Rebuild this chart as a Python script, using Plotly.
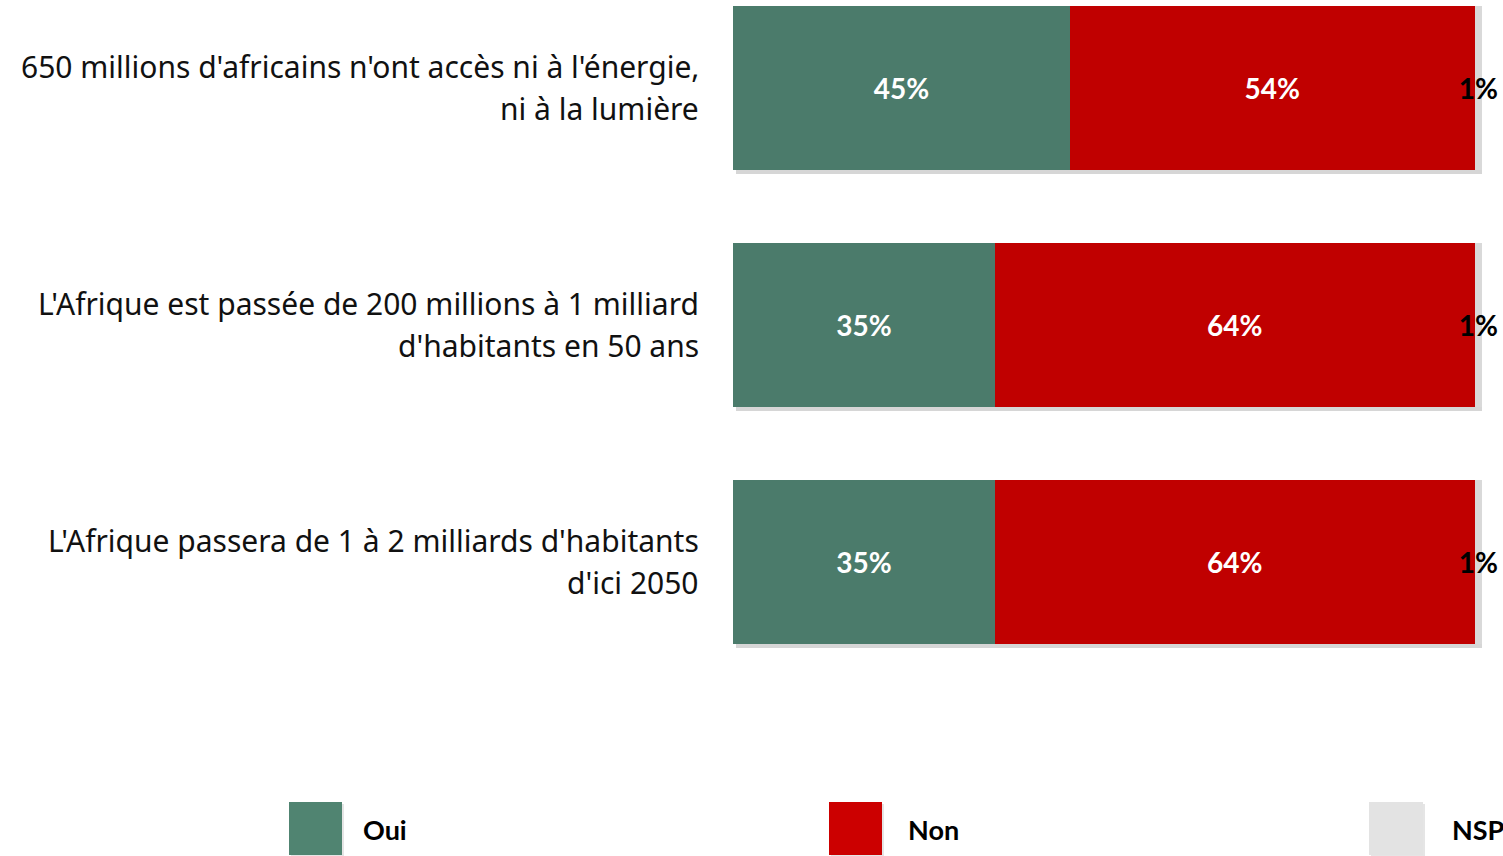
import plotly.graph_objects as go

categories = [
    "650 millions d'africains n'ont accès ni à l'énergie,<br>ni à la lumière",
    "L'Afrique est passée de 200 millions à 1 milliard<br>d'habitants en 50 ans",
    "L'Afrique passera de 1 à 2 milliards d'habitants<br>d'ici 2050",
]
series_names = ["Oui", "Non", "NSP"]
oui = [45, 35, 35]
non = [54, 64, 64]
nsp = [1, 1, 1]

bar_colors = ["#4B7B6B", "#C00000", "#D9D9D9"]
legend_colors = ["#508471", "#CC0000", "#E3E3E3"]
text_colors = ["white", "white", "black"]

W, H = 1503, 856
L, R = 733, 1482          # plot area left/right in px
T, B = 0, 660             # plot area top/bottom in px
FONT = "Lato"
LABEL_FONT = "Noto Sans"

PX_PER_UNIT_Y = 237.0
PX_PER_UNIT_X = (R - L) / 100.0
Y_RANGE = [2 + 98 / PX_PER_UNIT_Y, -88 / PX_PER_UNIT_Y]
X_RANGE = [0, 100]
SDX, SDY = 3, 4           # drop-shadow offset in px

def px_x(p):
    return (p - L) / (R - L)

def px_y(p):
    return (B - p) / (B - T)

fig = go.Figure()
values = [oui, non, nsp]
ys = list(range(len(categories)))
totals = [a + b + c for a, b, c in zip(oui, non, nsp)]

# soft drop shadow on the base axes (ranges shifted by a few pixels)
fig.add_trace(go.Bar(
    y=ys, x=totals, orientation="h", xaxis="x", yaxis="y",
    marker=dict(color="rgba(0,0,0,0.16)", line=dict(width=0)),
    width=0.688, hoverinfo="skip", showlegend=False,
))

for name, vals, col, tcol in zip(series_names, values, bar_colors, text_colors):
    fig.add_trace(go.Bar(
        y=ys, x=vals, name=name, orientation="h",
        xaxis="x2", yaxis="y2",
        marker=dict(color=col, line=dict(width=0)),
        width=0.688,
        text=[f"{v}%" for v in vals],
        textposition="inside", insidetextanchor="middle",
        constraintext="none", textangle=0,
        textfont=dict(family=FONT, size=28, color=tcol, weight="bold"),
        cliponaxis=False,
        showlegend=False,
    ))

annotations = []
for i, cat in enumerate(categories):
    lines = cat.split("<br>")
    for j, line in enumerate(lines):
        annotations.append(dict(
            x=px_x(701), xref="paper", y=i, yref="y2",
            text=line, showarrow=False, xanchor="right", yanchor="middle",
            yshift=22 - 42 * j,
            font=dict(family=LABEL_FONT, size=30, color="#111111"),
        ))

legend_sq = [(289, 342), (829, 882), (1369, 1423)]
legend_txt_x = [361, 906, 1450]
shapes = []
for (x0, x1), tx, name, col in zip(legend_sq, legend_txt_x, series_names, legend_colors):
    shapes.append(dict(type="rect", xref="paper", yref="paper",
                       x0=px_x(x0) + 2 / (R - L), x1=px_x(x1) + 2 / (R - L),
                       y0=px_y(857), y1=px_y(804),
                       fillcolor="rgba(0,0,0,0.10)", line=dict(width=0)))
    shapes.append(dict(type="rect", xref="paper", yref="paper",
                       x0=px_x(x0), x1=px_x(x1), y0=px_y(855), y1=px_y(802),
                       fillcolor=col, line=dict(width=0)))
    annotations.append(dict(
        x=px_x(tx), xref="paper", y=px_y(829), yref="paper",
        text=f"<b>{name}</b>", showarrow=False, xanchor="left", yanchor="middle",
        font=dict(family=FONT, size=27, color="black"),
    ))

fig.update_layout(
    barmode="stack",
    width=W, height=H,
    margin=dict(l=L, r=W - R, t=T, b=H - B, pad=0),
    plot_bgcolor="white", paper_bgcolor="white",
    xaxis=dict(range=[X_RANGE[0] - SDX / PX_PER_UNIT_X, X_RANGE[1] - SDX / PX_PER_UNIT_X],
               visible=False, fixedrange=True),
    yaxis=dict(range=[Y_RANGE[0] - SDY / PX_PER_UNIT_Y, Y_RANGE[1] - SDY / PX_PER_UNIT_Y],
               visible=False, fixedrange=True),
    xaxis2=dict(range=X_RANGE, visible=False, fixedrange=True, overlaying="x"),
    yaxis2=dict(range=Y_RANGE, visible=False, fixedrange=True, overlaying="y"),
    annotations=annotations,
    shapes=shapes,
    showlegend=False,
    font=dict(family=FONT),
)

fig.write_html("out.html", config={"displayModeBar": False},
               post_script="document.body.style.margin='0';")
